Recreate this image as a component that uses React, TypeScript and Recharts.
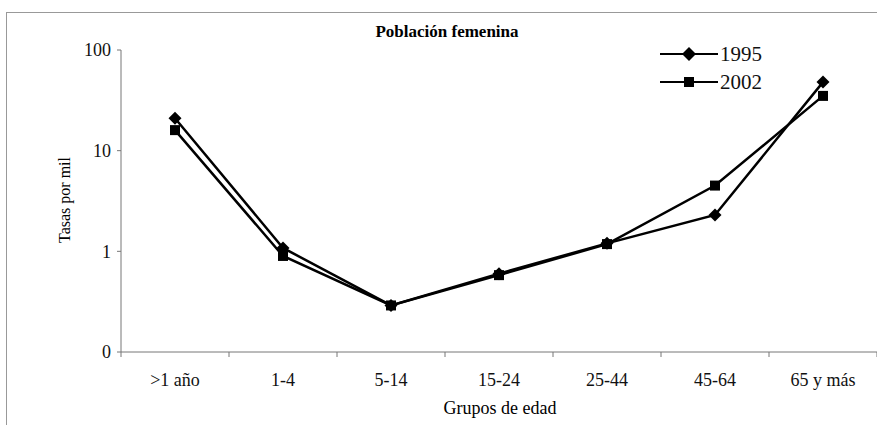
import React from "react";
import { LineChart, Line, XAxis, YAxis } from "recharts";

const categories = [">1 año", "1-4", "5-14", "15-24", "25-44", "45-64", "65 y más"];
const values1995 = [21, 1.08, 0.29, 0.6, 1.2, 2.3, 48];
const values2002 = [16, 0.9, 0.29, 0.58, 1.18, 4.5, 35];
const yTicks = [0.1, 1, 10, 100];
const seriesNames = ["1995", "2002"];

const data = categories.map((c, i) => ({ cat: c, a: values1995[i], b: values2002[i] }));

const W = 877;
const H = 425;
const M = { top: 50, right: 0, left: 61, bottom: 33 };
const YW = 60;
const XH = 40;
const plotW = W - M.left - YW - M.right;
const band = plotW / categories.length;
const FONT = "Liberation Serif, Tinos, Times New Roman, DejaVu Serif, serif";

const Diamond = (props: any) => {
  const { cx, cy } = props;
  if (cx == null || cy == null) return null;
  const r = 6.5;
  return <polygon points={`${cx},${cy - r} ${cx + r},${cy} ${cx},${cy + r} ${cx - r},${cy}`} fill="#000" />;
};
const Square = (props: any) => {
  const { cx, cy } = props;
  if (cx == null || cy == null) return null;
  const s = 5;
  return <rect x={cx - s} y={cy - s} width={2 * s} height={2 * s} fill="#000" />;
};

const XTick = (props: any) => {
  const { x, y, payload, index } = props;
  const last = index === categories.length - 1;
  return (
    <g>
      <line x1={x - band / 2} x2={x - band / 2} y1={y - 8} y2={y - 3} stroke="#777" />
      {last && <line x1={x + band / 2} x2={x + band / 2} y1={y - 8} y2={y - 3} stroke="#777" />}
      <text x={x} y={y + 26} textAnchor="middle" style={{ fontFamily: FONT }} fontSize={18} fill="#111">
        {payload.value}
      </text>
    </g>
  );
};

export default function App() {
  return (
    <div style={{ position: "absolute", left: 0, top: 0, width: W, height: H, background: "#fff", overflow: "hidden", fontFamily: FONT }}>
      <div style={{ position: "absolute", left: 6, top: 12, width: W, height: H, borderTop: "1px solid #999", borderLeft: "1px solid #999" }} />
      <LineChart width={W} height={H} data={data} margin={M}>
        <XAxis
          dataKey="cat"
          height={XH}
          stroke="#777"
          tickLine={false}
          tick={<XTick />}
          interval={0}
          padding={{ left: band / 2, right: band / 2 }}
        />
        <YAxis
          scale="log"
          domain={[0.1, 100]}
          ticks={yTicks}
          allowDataOverflow
          width={YW}
          stroke="#777"
          tickSize={4}
          tickMargin={6}
          tick={{ fontSize: 18, fill: "#111", style: { fontFamily: FONT } }}
          tickFormatter={(v: number) => (v < 1 ? "0" : String(v))}
        />
        <Line dataKey="a" name="1995" stroke="#000" strokeWidth={2.5} dot={<Diamond />} isAnimationActive={false} />
        <Line dataKey="b" name="2002" stroke="#000" strokeWidth={2.5} dot={<Square />} isAnimationActive={false} />
      </LineChart>
      <div style={{ position: "absolute", left: 660, top: 40, fontSize: 21, color: "#111" }}>
        {seriesNames.map((n, i) => (
          <div key={n} style={{ display: "flex", alignItems: "center", height: 28 }}>
            <svg width={58} height={20}>
              <line x1={0} x2={58} y1={10} y2={10} stroke="#000" strokeWidth={2} />
              {i === 0 ? (
                <polygon points="29,3 36,10 29,17 22,10" fill="#000" />
              ) : (
                <rect x={24} y={5} width={10} height={10} fill="#000" />
              )}
            </svg>
            <span style={{ marginLeft: 2 }}>{n}</span>
          </div>
        ))}
      </div>
      <div style={{ position: "absolute", left: 297, width: 300, top: 22, textAlign: "center", fontWeight: "bold", fontSize: 17 }}>
        Población femenina
      </div>
      <div style={{ position: "absolute", left: 0, top: 0, width: 150, height: 20, transform: "translate(-10px, 190px) rotate(-90deg)", transformOrigin: "75px 10px", textAlign: "center", fontSize: 16, lineHeight: "20px" }}>
        Tasas por mil
      </div>
      <div style={{ position: "absolute", left: 350, width: 300, top: 398, textAlign: "center", fontSize: 18 }}>
        Grupos de edad
      </div>
    </div>
  );
}
